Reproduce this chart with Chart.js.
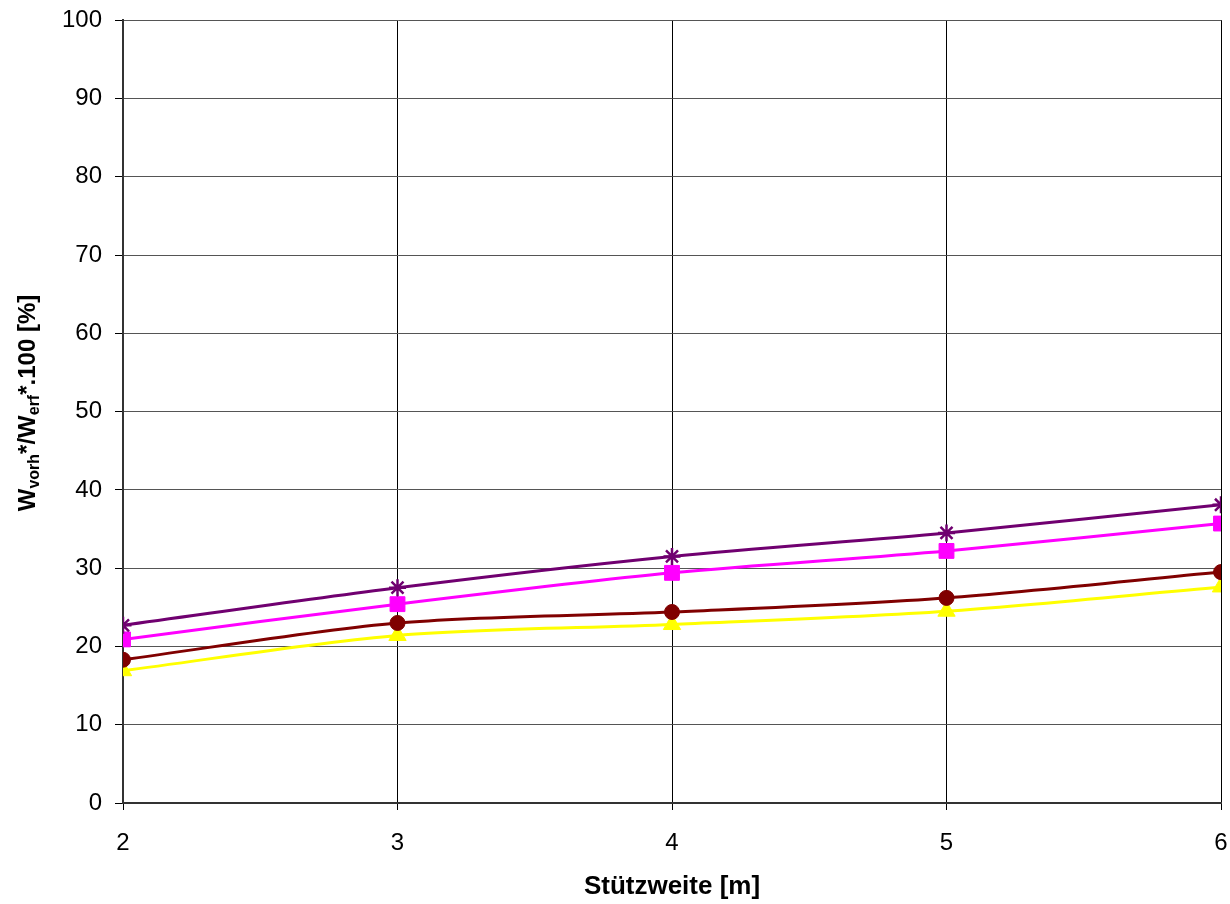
<!DOCTYPE html>
<html>
<head>
<meta charset="utf-8">
<script src="https://cdn.jsdelivr.net/npm/chart.js@4"></script>
<style>
  html, body { margin: 0; padding: 0; background: #fff; }
  canvas { display: block; }
</style>
</head>
<body>
<canvas id="chart" width="1230" height="904"></canvas>
<script>
// Stützweite [m]
const spans = [2, 3, 4, 5, 6];

// Series values (percent)
const starValues = [22.7, 27.5, 31.5, 34.5, 38.1];
const squareValues = [20.9, 25.4, 29.4, 32.2, 35.7];
const circleValues = [18.3, 23.0, 24.4, 26.2, 29.5];
const triangleValues = [16.9, 21.4, 22.8, 24.5, 27.6];

const yTicks = [0, 10, 20, 30, 40, 50, 60, 70, 80, 90, 100];

const FONT = 'Arial, "Liberation Sans", sans-serif';

function toPoints(values) {
    return spans.map((x, i) => ({ x: x, y: values[i] }));
}

function makeSet(label, values, color, style, radius) {
    return {
        label: label,
        data: toPoints(values),
        borderColor: color,
        backgroundColor: color,
        borderWidth: 3,
        pointStyle: style,
        pointRadius: radius,
        pointHoverRadius: radius,
        pointBorderColor: color,
        pointBackgroundColor: color,
        pointBorderWidth: style === 'star' ? 2.5 : 1,
        tension: 0.3,
        fill: false
    };
}

// Y axis title with subscripts
const yTitlePlugin = {
    id: 'yTitle',
    afterDraw(chart) {
        const ctx = chart.ctx;
        const parts = [
            { t: 'W', sub: false },
            { t: 'vorh', sub: true },
            { t: '*/W', sub: false },
            { t: 'erf', sub: true },
            { t: '*.100 [%]', sub: false }
        ];
        const bigFont = 'bold 24px ' + FONT;
        const smallFont = 'bold 16px ' + FONT;
        ctx.save();
        let total = 0;
        parts.forEach(p => {
            ctx.font = p.sub ? smallFont : bigFont;
            p.w = ctx.measureText(p.t).width;
            total += p.w;
        });
        ctx.translate(35, 403);
        ctx.rotate(-Math.PI / 2);
        ctx.fillStyle = '#000';
        ctx.textBaseline = 'alphabetic';
        ctx.textAlign = 'left';
        let pos = -total / 2;
        parts.forEach(p => {
            ctx.font = p.sub ? smallFont : bigFont;
            ctx.fillText(p.t, pos, p.sub ? 4 : 0);
            pos += p.w;
        });
        ctx.restore();
    }
};

new Chart(document.getElementById('chart'), {
    type: 'line',
    data: {
        datasets: [
            makeSet('Stern', starValues, '#700070', 'star', 8.5),
            makeSet('Quadrat', squareValues, '#FF00FF', 'rect', 10.5),
            makeSet('Kreis', circleValues, '#800000', 'circle', 7.5),
            makeSet('Dreieck', triangleValues, '#FFFF00', 'triangle', 10)
        ]
    },
    options: {
        responsive: false,
        animation: false,
        layout: {
            autoPadding: false,
            padding: { top: 0, right: 9, left: 0, bottom: 0 }
        },
        plugins: {
            legend: { display: false },
            tooltip: { enabled: false }
        },
        scales: {
            x: {
                type: 'linear',
                min: 2,
                max: 6,
                afterBuildTicks(scale) {
                    scale.ticks = spans.map(v => ({ value: v }));
                },
                afterFit(scale) {
                    scale.height = 101;
                    scale.paddingRight = 0;
                },
                grid: {
                    color: '#000',
                    lineWidth: 1,
                    tickLength: 7,
                    tickColor: '#000'
                },
                border: { color: '#333', width: 2 },
                ticks: {
                    color: '#000',
                    font: { family: FONT, size: 24, lineHeight: 2.58 },
                    padding: 2,
                    maxRotation: 0
                },
                title: {
                    display: true,
                    text: 'Stützweite [m]',
                    color: '#000',
                    font: { family: FONT, size: 26, weight: 'bold' },
                    padding: { top: 4, bottom: 2 }
                }
            },
            y: {
                min: 0,
                max: 100,
                afterBuildTicks(scale) {
                    scale.ticks = yTicks.map(v => ({ value: v }));
                },
                afterFit(scale) { scale.width = 123; },
                grid: {
                    color: '#555',
                    lineWidth: 1,
                    tickLength: 8,
                    tickColor: '#000'
                },
                border: { color: '#333', width: 2 },
                ticks: {
                    color: '#000',
                    font: { family: FONT, size: 24, lineHeight: 0.6 },
                    padding: 13
                }
            }
        }
    },
    plugins: [yTitlePlugin]
});
</script>
</body>
</html>
